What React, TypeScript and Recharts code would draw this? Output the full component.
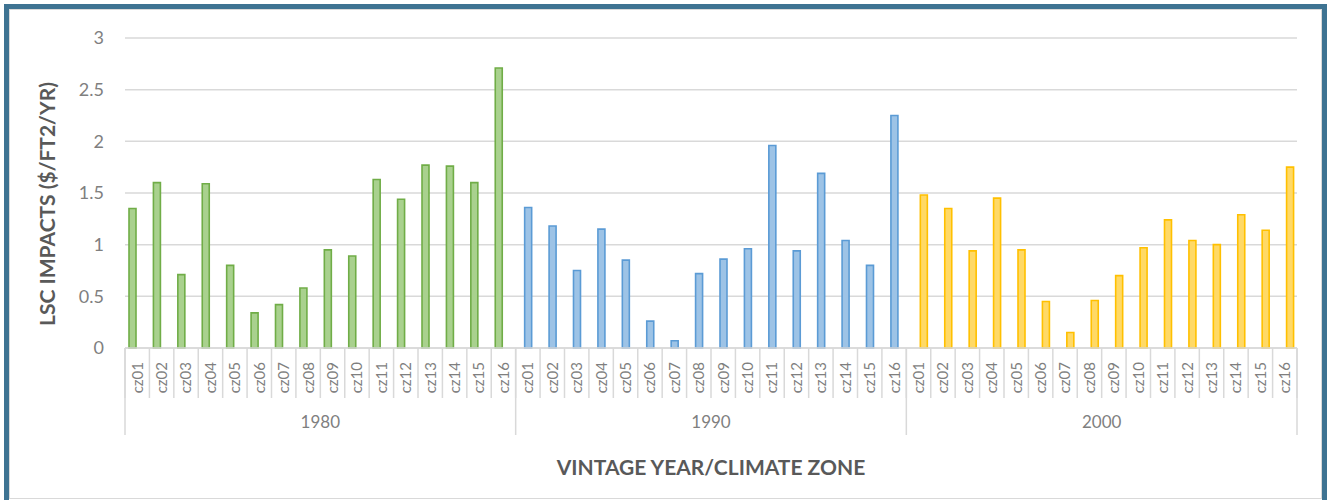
import React from 'react';
import { BarChart, Bar, XAxis, YAxis, CartesianGrid, Label } from 'recharts';

// LSC impacts per climate zone, grouped by building vintage
const zones = ['cz01', 'cz02', 'cz03', 'cz04', 'cz05', 'cz06', 'cz07', 'cz08', 'cz09', 'cz10', 'cz11', 'cz12', 'cz13', 'cz14', 'cz15', 'cz16'];
const vintages = ['1980', '1990', '2000'];
const impacts1980 = [1.35, 1.6, 0.71, 1.59, 0.8, 0.34, 0.42, 0.58, 0.95, 0.89, 1.63, 1.44, 1.77, 1.76, 1.6, 2.71];
const impacts1990 = [1.36, 1.18, 0.75, 1.15, 0.85, 0.26, 0.07, 0.72, 0.86, 0.96, 1.96, 0.94, 1.69, 1.04, 0.8, 2.25];
const impacts2000 = [1.48, 1.35, 0.94, 1.45, 0.95, 0.45, 0.15, 0.46, 0.7, 0.97, 1.24, 1.04, 1.0, 1.29, 1.14, 1.75];
const yTicks = [0, 0.5, 1, 1.5, 2, 2.5, 3];
const yAxisTitle = 'LSC IMPACTS ($/FT2/YR)';
const xAxisTitle = 'VINTAGE YEAR/CLIMATE ZONE';

const seriesValues = [impacts1980, impacts1990, impacts2000];

const rows = vintages.flatMap((vintage, g) =>
  zones.map((zone, i) => {
    const row: Record<string, string | number | null> = { zone, vintage };
    vintages.forEach((v, k) => {
      row['v' + v] = k === g ? seriesValues[k][i] : null;
    });
    return row;
  })
);

// layout
const W = 1330;
const H = 500;
const Y_AXIS_W = 125;
const MARGIN = { top: 38, right: 33, left: 0, bottom: 65 };
const ZONE_AXIS_H = 50;
const GROUP_AXIS_H = 37;
const PLOT_BOTTOM = H - MARGIN.bottom - ZONE_AXIS_H - GROUP_AXIS_H;
const BAND = (W - Y_AXIS_W - MARGIN.right - MARGIN.left) / rows.length;
const PER_GROUP = zones.length;

const FONT = "Lato, 'Liberation Sans', sans-serif";
const TICK_COLOR = '#7F7F7F';
const TITLE_COLOR = '#595959';
const LINE_COLOR = '#D9D9D9';

const COLORS = [
  { fill: '#A9D18E', stroke: '#70AD47' },
  { fill: '#9DC3E6', stroke: '#5B9BD5' },
  { fill: '#FFD966', stroke: '#FFC000' },
];

// climate-zone labels with a separator on the left of each band
const ZoneTick = (props: any) => {
  const { x, payload, index } = props;
  const y0 = PLOT_BOTTOM;
  return (
    <g>
      <line x1={x - BAND / 2} x2={x - BAND / 2} y1={y0} y2={y0 + ZONE_AXIS_H} stroke={LINE_COLOR} strokeWidth={1.5} />
      {index === rows.length - 1 && (
        <line x1={x + BAND / 2} x2={x + BAND / 2} y1={y0} y2={y0 + ZONE_AXIS_H} stroke={LINE_COLOR} strokeWidth={1.5} />
      )}
      <text
        transform={`translate(${x},${y0 + 14}) rotate(-90)`}
        textAnchor="end"
        dy="0.36em"
        fontFamily={FONT}
        fontSize={15}
        fill={TICK_COLOR}
      >
        {payload.value}
      </text>
    </g>
  );
};

// vintage labels, one per group of 16 zones, with longer group separators
const GroupTick = (props: any) => {
  const { x, payload, index } = props;
  const y0 = PLOT_BOTTOM;
  const y1 = PLOT_BOTTOM + ZONE_AXIS_H + GROUP_AXIS_H;
  const isFirst = index % PER_GROUP === 0;
  const isLast = index === rows.length - 1;
  if (!isFirst && !isLast) return <g />;
  return (
    <g>
      {isFirst && <line x1={x - BAND / 2} x2={x - BAND / 2} y1={y0} y2={y1} stroke={LINE_COLOR} strokeWidth={1.5} />}
      {isLast && <line x1={x + BAND / 2} x2={x + BAND / 2} y1={y0} y2={y1} stroke={LINE_COLOR} strokeWidth={1.5} />}
      {isFirst && (
        <text
          x={x + ((PER_GROUP - 1) / 2) * BAND}
          y={y0 + ZONE_AXIS_H + 24}
          textAnchor="middle"
          dy="0.35em"
          fontFamily={FONT}
          fontSize={17}
          fill={TICK_COLOR}
        >
          {payload.value}
        </text>
      )}
    </g>
  );
};

const YTitle = () => (
  <text
    transform={`translate(47,${MARGIN.top + 166}) rotate(-90)`}
    textAnchor="middle"
    dy="0.36em"
    fontFamily={FONT}
    fontWeight={700}
    fontSize={21}
    fill={TITLE_COLOR}
  >
    {yAxisTitle}
  </text>
);

const XTitle = () => (
  <text
    x={Y_AXIS_W + (W - Y_AXIS_W - MARGIN.right) / 2}
    y={PLOT_BOTTOM + 119}
    textAnchor="middle"
    dy="0.36em"
    fontFamily={FONT}
    fontWeight={700}
    fontSize={21}
    fill={TITLE_COLOR}
  >
    {xAxisTitle}
  </text>
);

export default function App() {
  return (
    <div style={{ position: 'absolute', left: 0, top: 0, width: W, height: H, overflow: 'hidden', background: '#fff' }}>
      <div
        style={{
          position: 'absolute',
          left: 4,
          top: 4,
          width: 1323,
          height: 520,
          border: '5px solid #3E7392',
          boxSizing: 'border-box',
        }}
      />
      <div
        style={{
          position: 'absolute',
          left: 9,
          top: 9,
          width: 1313,
          height: 490,
          border: `1px solid ${LINE_COLOR}`,
          boxSizing: 'border-box',
        }}
      />
      <div style={{ position: 'absolute', left: 0, top: 0 }}>
        <BarChart width={W} height={H} data={rows} margin={MARGIN} barSize={7} barGap={-2}>
          <CartesianGrid xAxisId={0} vertical={false} stroke={LINE_COLOR} strokeWidth={1.5} />
          <XAxis
            xAxisId={0}
            dataKey="zone"
            height={ZONE_AXIS_H}
            interval={0}
            tickLine={false}
            axisLine={{ stroke: LINE_COLOR, strokeWidth: 1.5 }}
            tick={(p: any) => <ZoneTick {...p} />}
          />
          <XAxis
            xAxisId={1}
            dataKey="vintage"
            height={GROUP_AXIS_H}
            interval={0}
            tickLine={false}
            axisLine={false}
            tick={(p: any) => <GroupTick {...p} />}
          >
            <Label content={() => <XTitle />} />
          </XAxis>
          <YAxis
            width={Y_AXIS_W}
            domain={[0, 3]}
            ticks={yTicks}
            axisLine={false}
            tickLine={false}
            tickMargin={15}
            tick={{ fontFamily: FONT, fontSize: 18, fill: TICK_COLOR }}
          >
            <Label content={() => <YTitle />} />
          </YAxis>
          {vintages.map((v, k) => (
            <Bar
              key={v}
              xAxisId={0}
              dataKey={'v' + v}
              fill={COLORS[k].fill}
              stroke={COLORS[k].stroke}
              strokeWidth={1.6}
              isAnimationActive={false}
            />
          ))}
        </BarChart>
      </div>
    </div>
  );
}
